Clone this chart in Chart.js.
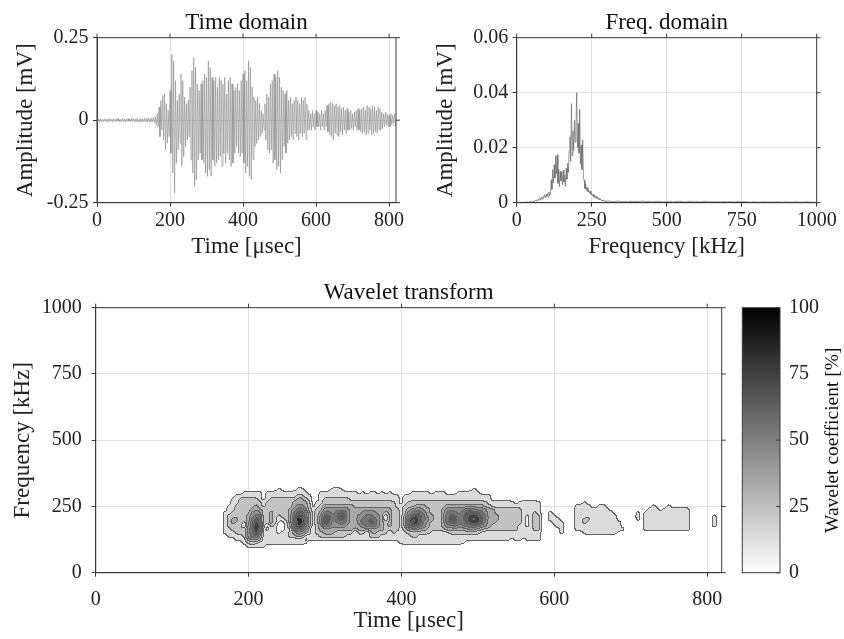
<!DOCTYPE html>
<html>
<head>
<meta charset="utf-8">
<script src="https://cdn.jsdelivr.net/npm/chart.js@4.4.1/dist/chart.umd.min.js"></script>
<style>
  body { margin: 0; background: #fff; width: 844px; height: 639px; position: relative; overflow: hidden; }
  canvas { position: absolute; }
</style>
</head>
<body>
<canvas id="time-chart" width="420" height="262" style="left:0;top:0"></canvas>
<canvas id="freq-chart" width="424" height="262" style="left:420px;top:0"></canvas>
<canvas id="wavelet-chart" width="735" height="369" style="left:0;top:270px"></canvas>
<canvas id="colorbar-chart" width="109" height="369" style="left:735px;top:270px"></canvas>
<script>
// --- tick values ---
const timeTicks = [0, 200, 400, 600, 800];
const freqTicks = [0, 250, 500, 750, 1000];

// --- Time domain: positive / negative swing every 5 usec (mV) ---
const SAMPLE_STEP = 5;
const peakUp = [
  0.004,0.003,0.005,0.002,0.004,0.003,0.004,0.005,0.003,0.004,
  0.003,0.005,0.004,0.003,0.006,0.004,0.003,0.005,0.004,0.006,
  0.005,0.004,0.006,0.003,0.005,0.004,0.006,0.005,0.007,0.005,
  0.006,0.008,0.010,0.020,0.040,0.060,0.075,0.080,0.050,0.030,
  0.090,0.200,0.180,0.120,0.060,0.080,0.140,0.120,0.070,0.050,
  0.060,0.100,0.150,0.190,0.160,0.110,0.090,0.110,0.120,0.140,
  0.130,0.180,0.160,0.130,0.120,0.130,0.100,0.130,0.120,0.110,
  0.130,0.080,0.120,0.130,0.110,0.090,0.100,0.110,0.090,0.120,
  0.140,0.150,0.120,0.180,0.160,0.100,0.070,0.060,0.070,0.050,
  0.030,0.020,0.050,0.080,0.070,0.110,0.120,0.140,0.130,0.150,
  0.130,0.100,0.090,0.080,0.090,0.060,0.070,0.050,0.060,0.070,
  0.060,0.050,0.070,0.060,0.070,0.050,0.030,0.020,0.030,0.020,
  0.030,0.025,0.020,0.030,0.020,0.030,0.045,0.050,0.055,0.050,
  0.045,0.050,0.040,0.045,0.035,0.040,0.030,0.035,0.025,0.030,
  0.020,0.025,0.030,0.035,0.030,0.035,0.040,0.030,0.045,0.040,
  0.035,0.045,0.040,0.030,0.040,0.035,0.025,0.020,0.025,0.020,
  0.015,0.020,0.015,0.020,0.010
];
const peakDown = [
  -0.003,-0.005,-0.004,-0.004,-0.003,-0.005,-0.004,-0.003,-0.005,-0.004,
  -0.004,-0.003,-0.005,-0.004,-0.004,-0.006,-0.004,-0.003,-0.005,-0.004,
  -0.005,-0.006,-0.004,-0.005,-0.006,-0.004,-0.005,-0.006,-0.004,-0.006,
  -0.005,-0.008,-0.015,-0.020,-0.050,-0.030,-0.060,-0.090,-0.070,-0.050,
  -0.100,-0.160,-0.220,-0.130,-0.090,-0.070,-0.140,-0.110,-0.080,-0.060,
  -0.050,-0.120,-0.160,-0.200,-0.180,-0.120,-0.100,-0.120,-0.130,-0.160,
  -0.170,-0.150,-0.170,-0.120,-0.140,-0.130,-0.120,-0.110,-0.140,-0.100,
  -0.130,-0.100,-0.120,-0.140,-0.130,-0.100,-0.080,-0.100,-0.110,-0.100,
  -0.130,-0.160,-0.140,-0.170,-0.180,-0.120,-0.080,-0.070,-0.060,-0.050,
  -0.040,-0.030,-0.060,-0.090,-0.100,-0.090,-0.130,-0.120,-0.150,-0.140,
  -0.160,-0.120,-0.080,-0.100,-0.070,-0.060,-0.050,-0.060,-0.040,-0.050,
  -0.060,-0.040,-0.050,-0.040,-0.060,-0.030,-0.030,-0.030,-0.020,-0.030,
  -0.020,-0.020,-0.030,-0.020,-0.030,-0.020,-0.035,-0.045,-0.050,-0.060,
  -0.040,-0.045,-0.050,-0.035,-0.045,-0.030,-0.040,-0.030,-0.030,-0.025,
  -0.030,-0.020,-0.030,-0.030,-0.035,-0.040,-0.035,-0.045,-0.040,-0.030,
  -0.045,-0.040,-0.035,-0.040,-0.030,-0.030,-0.025,-0.020,-0.015,-0.020,
  -0.020,-0.015,-0.010,-0.020,-0.010
];

// --- Frequency domain (mV): 2.5 kHz steps up to 297.5 kHz, then 10 kHz steps ---
const specFine = [
  0.0001,0.0002,0.0001,0.0002,0.0001,0.0002,0.0001,0.0002,0.0002,0.0001,
  0.0002,0.0001,0.0002,0.0003,0.0002,0.0003,0.0002,0.0003,0.0004,0.0003,
  0.0004,0.0006,0.0003,0.0007,0.0005,0.0009,0.0006,0.0011,0.0008,0.0013,
  0.0009,0.0016,0.0011,0.0020,0.0013,0.0022,0.0016,0.0029,0.0019,0.0031,
  0.0023,0.0034,0.0020,0.0039,0.0026,0.0030,0.0083,0.0048,0.0120,0.0072,
  0.0138,0.0090,0.0170,0.0105,0.0174,0.0070,0.0122,0.0058,0.0115,0.0080,
  0.0110,0.0065,0.0118,0.0075,0.0100,0.0060,0.0125,0.0085,0.0143,0.0110,
  0.0190,0.0240,0.0150,0.0360,0.0170,0.0260,0.0190,0.0300,0.0220,0.0270,
  0.0400,0.0200,0.0288,0.0180,0.0340,0.0140,0.0210,0.0120,0.0228,0.0090,
  0.0082,0.0050,0.0070,0.0045,0.0055,0.0040,0.0046,0.0035,0.0042,0.0030,
  0.0034,0.0025,0.0030,0.0020,0.0028,0.0018,0.0022,0.0015,0.0018,0.0012,
  0.0016,0.0010,0.0012,0.0008,0.0010,0.0006,0.0009,0.0005,0.0007,0.0005
];
const specTail = [
  0.0005,0.0006,0.0004,0.0005,0.0006,0.0004,0.0005,0.0003,0.0005,0.0004,
  0.0005,0.0004,0.0006,0.0004,0.0005,0.0003,0.0004,0.0005,0.0004,0.0003,
  0.0004,0.0005,0.0003,0.0004,0.0005,0.0004,0.0003,0.0004,0.0005,0.0003,
  0.0004,0.0003,0.0004,0.0005,0.0003,0.0004,0.0003,0.0004,0.0003,0.0004,
  0.0003,0.0004,0.0003,0.0003,0.0004,0.0003,0.0004,0.0003,0.0002,0.0003,
  0.0003,0.0002,0.0003,0.0003,0.0002,0.0003,0.0002,0.0003,0.0002,0.0002,
  0.0003,0.0002,0.0002,0.0003,0.0002,0.0002,0.0002,0.0003,0.0002,0.0002,
  0.0002
];

// --- Wavelet transform: contour level (0-9, tens of %) per cell ---
// rows = frequency (kHz), columns = time 170..815 usec in 5 usec steps (blocks of 10)
const waveletFreqs = [312.5, 300, 287.5, 275, 262.5, 250, 237.5, 225, 212.5, 200, 187.5, 175, 162.5, 150, 137.5, 125, 112.5, 100];
const waveletRows = [
  '0000000000 0000100001 1000000011 1000000000 0000000000 0000000000 0000010000 0000000000 0000000000 0000000000 0000000000 0000000000 0000000000',
  '0000011111 0111111111 1100011111 1111101011 0101000001 1111011100 0111111000 0000000000 0000000000 0000000000 0000000000 0000000000 0000000000',
  '0001111111 0111111112 2110011111 1111111111 1111110111 1111111111 1111111111 0000000000 0000000000 0000000000 0000000000 0000000000 0000000000',
  '0011222221 0122222223 3210012222 2221111111 1111110111 1111111111 1111111111 0000000000 0000000000 0000000000 0000000000 0000000000 0000000000',
  '0011222222 1222222233 3320112222 2222222222 2222210122 2222222222 2222222221 1111110111 1110000000 0000100000 0000000000 0000000000 0000000000',
  '0112222232 1222222234 4320123333 3333222222 2222211222 3332222233 3333333322 1111111111 1110000000 0011110011 0000000000 0010001000 0000000000',
  '0112222333 2222222345 5421224444 4443333333 3333221234 4433222344 4445554443 3222222211 1110000000 0011111111 1000000000 0111011111 1100000000',
  '1122222444 2232222356 6531235545 6643334444 3323221245 5543222355 5456666543 3222222211 1210010000 0011111111 1100000010 1111111111 1100000000',
  '1222223455 2232122357 7531246655 7743344554 4303221356 7653322356 6556777653 3322222210 1220011000 0011111111 1110000010 1111111111 1100000010',
  '1233223566 2232112369 8631247655 6643345565 4303221368 7654322356 6556787653 3322222210 1220011100 0011221111 1110000010 1111111111 1100000010',
  '1232213576 2232001358 8631247644 5543345566 4323221368 7643222356 6556777643 3222222210 1220001110 0011211111 1111000000 1111111111 1100000010',
  '1222204587 2021001358 7531235544 4433334555 4323221356 6543222344 5445555443 2222222110 1220000110 0011111111 1111000000 1111111111 1100000010',
  '1122224586 1011001146 6420233333 3333233333 3322221234 4332222233 3333443322 2222222111 1220000010 0011111111 1111100000 1111111111 1100000000',
  '1112224575 1111011234 4321223332 2222022023 2220211122 2222111112 2222222111 1111111111 1110000010 0000111111 1110000000 0000000000 0000000000',
  '0111124564 1111111223 3111122222 2211111122 2111111112 2111111111 1111111111 1111111111 1110000000 0000000000 0000000000 0000000000 0000000000',
  '0001113443 1111111111 1011111111 1111111111 1111111111 1111111111 1111111111 1111101101 1110000000 0000000000 0000000000 0000000000 0000000000',
  '0000012221 1111111111 1100000000 0000000000 0000001111 1111111111 1110000000 0000000000 0000000000 0000000000 0000000000 0000000000 0000000000',
  '0000001111 1000000000 0000000000 0000000000 0000000000 0000000000 0000000000 0000000000 0000000000 0000000000 0000000000 0000000000 0000000000'
];
const WAVELET_T0 = 170;
const WAVELET_T_STEP = 5;
const WAVELET_F_STEP = 12.5;
const colorbarRange = [0, 100];

// --- shared look ---
const FONT = '"Liberation Serif", "Times New Roman", serif';
Chart.defaults.font.family = FONT;
Chart.defaults.color = '#222';
Chart.defaults.animation = false;
const DARK = '#3a3a3a';
const GRID = '#e0e0e0';
const TICK_SIZE = 20;
const LABEL_SIZE = 23;

const levelGray = lv => Math.round(255 * (1 - (lv * 10 + 4) / 100));

// box around the plot, plus outward ticks on top and right
const framePlugin = {
  id: 'frame',
  afterDraw(chart) {
    const { ctx, chartArea: a, scales } = chart;
    ctx.save();
    ctx.strokeStyle = DARK;
    ctx.lineWidth = 1;
    ctx.strokeRect(a.left, a.top, a.right - a.left, a.bottom - a.top);
    ctx.beginPath();
    scales.x.ticks.forEach(t => {
      const px = scales.x.getPixelForValue(t.value);
      ctx.moveTo(px, a.top);
      ctx.lineTo(px, a.top - 4);
    });
    scales.y.ticks.forEach(t => {
      const py = scales.y.getPixelForValue(t.value);
      ctx.moveTo(a.right, py);
      ctx.lineTo(a.right + 4, py);
    });
    ctx.stroke();
    ctx.restore();
  }
};

const xAxis = (min, max, tickValues, title, height, tickPad) => ({
  type: 'linear', min, max,
  grid: { color: GRID, tickColor: DARK, tickLength: 4 },
  border: { color: DARK, width: 1 },
  ticks: { padding: tickPad, font: { size: TICK_SIZE }, maxRotation: 0, callback: v => String(v) },
  afterBuildTicks: s => { s.ticks = tickValues.map(v => ({ value: v })); },
  title: { display: true, text: title, font: { size: LABEL_SIZE }, padding: { top: 0, bottom: 0 } },
  afterFit: s => { s.height = height; }
});

const yAxis = (min, max, step, title, width, tickPad, titlePad) => ({
  type: 'linear', min, max,
  grid: { color: GRID, tickColor: DARK, tickLength: 4 },
  border: { color: DARK, width: 1 },
  ticks: { stepSize: step, padding: tickPad, font: { size: TICK_SIZE }, callback: v => String(v) },
  title: { display: true, text: title, font: { size: LABEL_SIZE }, padding: { top: titlePad, bottom: 0 } },
  afterFit: s => { s.width = width; }
});

const titleOpts = text => ({
  display: true, text, fullSize: false,
  font: { size: LABEL_SIZE, weight: 'normal' }, color: '#111',
  padding: { top: 6.7, bottom: 0.9 }
});

// --- Time domain ---
const timeSignal = [];
peakUp.forEach((v, k) => {
  timeSignal.push({ x: k * SAMPLE_STEP, y: v });
  timeSignal.push({ x: k * SAMPLE_STEP + SAMPLE_STEP / 2, y: peakDown[k] });
});

new Chart(document.getElementById('time-chart'), {
  type: 'line',
  data: { datasets: [{ data: timeSignal, borderColor: '#8a8a8a', borderWidth: 0.6, pointRadius: 0, tension: 0 }] },
  options: {
    responsive: false, events: [],
    layout: { padding: { left: 4, right: 24, top: 2.5, bottom: 0.8 } },
    plugins: { legend: { display: false }, tooltip: { enabled: false }, title: titleOpts('Time domain') },
    scales: {
      x: xAxis(0, 819, timeTicks, 'Time [μsec]', 58.5, 2),
      y: yAxis(-0.25, 0.25, 0.25, 'Amplitude [mV]', 93, 4.5, 8.2)
    }
  },
  plugins: [framePlugin]
});

// --- Frequency domain ---
const spectrum = specFine.map((v, i) => ({ x: i * 2.5, y: v }))
  .concat(specTail.map((v, i) => ({ x: 300 + i * 10, y: v })));

new Chart(document.getElementById('freq-chart'), {
  type: 'line',
  data: { datasets: [{ data: spectrum, borderColor: '#6a6a6a', borderWidth: 0.7, pointRadius: 0, tension: 0 }] },
  options: {
    responsive: false, events: [],
    layout: { padding: { left: 4, right: 27.3, top: 2.5, bottom: 0.8 } },
    plugins: { legend: { display: false }, tooltip: { enabled: false }, title: titleOpts('Freq. domain') },
    scales: {
      x: xAxis(0, 1000, freqTicks, 'Frequency [kHz]', 58.5, 2),
      y: yAxis(0, 0.06, 0.02, 'Amplitude [mV]', 92.7, 4.5, 8.2)
    }
  },
  plugins: [framePlugin]
});

// --- Wavelet transform ---
const waveletGrid = waveletRows.map(r => r.replace(/ /g, '').split('').map(Number));
const waveletTimes = waveletGrid[0].map((_, c) => WAVELET_T0 + c * WAVELET_T_STEP);

// filled contour bands rendered from the level grid, through the chart's scales
const waveletPlugin = {
  id: 'waveletContour',
  beforeDatasetsDraw(chart) {
    const { ctx, chartArea: a, scales: { x, y } } = chart;
    const nR = waveletGrid.length, nC = waveletTimes.length;
    const val = (r, c) => (r < 0 || c < 0 || r >= nR || c >= nC) ? 0.5 : waveletGrid[r][c] + 0.5;

    const px0 = Math.max(Math.floor(x.getPixelForValue(waveletTimes[0] - 2 * WAVELET_T_STEP)), Math.ceil(a.left) + 1);
    const px1 = Math.min(Math.ceil(x.getPixelForValue(waveletTimes[nC - 1] + 2 * WAVELET_T_STEP)), Math.floor(a.right));
    const py0 = Math.max(Math.floor(y.getPixelForValue(waveletFreqs[0] + 2 * WAVELET_F_STEP)), Math.ceil(a.top));
    const py1 = Math.min(Math.ceil(y.getPixelForValue(waveletFreqs[nR - 1] - 2 * WAVELET_F_STEP)), Math.floor(a.bottom) - 1);
    const w = px1 - px0, h = py1 - py0;
    if (w <= 0 || h <= 0) return;

    // sample the grid at every pixel
    const field = new Float32Array(w * h);
    for (let j = 0; j < h; j++) {
      const f = y.getValueForPixel(py0 + j + 0.5);
      const rv = (waveletFreqs[0] - f) / WAVELET_F_STEP;
      const r0 = Math.floor(rv), fr = rv - r0;
      for (let i = 0; i < w; i++) {
        const t = x.getValueForPixel(px0 + i + 0.5);
        const cv = (t - WAVELET_T0) / WAVELET_T_STEP;
        const c0 = Math.floor(cv), fc = cv - c0;
        field[j * w + i] = (val(r0, c0) * (1 - fc) + val(r0, c0 + 1) * fc) * (1 - fr)
                         + (val(r0 + 1, c0) * (1 - fc) + val(r0 + 1, c0 + 1) * fc) * fr;
      }
    }
    // light softening of the cell corners
    const R = 1, n = 2 * R + 1;
    const tmp = new Float32Array(w * h);
    for (let pass = 0; pass < 2; pass++) {
      for (let j = 0; j < h; j++) {
        for (let i = 0; i < w; i++) {
          let s = 0;
          for (let k = -R; k <= R; k++) s += field[j * w + Math.min(w - 1, Math.max(0, i + k))];
          tmp[j * w + i] = s / n;
        }
      }
      for (let j = 0; j < h; j++) {
        for (let i = 0; i < w; i++) {
          let s = 0;
          for (let k = -R; k <= R; k++) s += tmp[Math.min(h - 1, Math.max(0, j + k)) * w + i];
          field[j * w + i] = s / n;
        }
      }
    }
    const levels = new Uint8Array(w * h);
    for (let k = 0; k < w * h; k++) levels[k] = Math.floor(field[k]);

    const off = document.createElement('canvas');
    off.width = w; off.height = h;
    const octx = off.getContext('2d');
    const img = octx.createImageData(w, h);
    for (let j = 0; j < h; j++) {
      for (let i = 0; i < w; i++) {
        const k = j * w + i, L = levels[k];
        const edge = (i + 1 < w && levels[k + 1] !== L) || (j + 1 < h && levels[k + w] !== L);
        const p = k * 4;
        if (edge) {
          img.data[p] = img.data[p + 1] = img.data[p + 2] = 100; img.data[p + 3] = 255;
        } else if (L > 0) {
          const g = levelGray(L);
          img.data[p] = img.data[p + 1] = img.data[p + 2] = g; img.data[p + 3] = 255;
        }
      }
    }
    octx.putImageData(img, 0, 0);
    ctx.drawImage(off, px0, py0);
  }
};

new Chart(document.getElementById('wavelet-chart'), {
  type: 'scatter',
  data: { datasets: [{ data: [], pointRadius: 0 }] },
  options: {
    responsive: false, events: [],
    layout: { padding: { left: 4, right: 13.3, top: 2.5, bottom: 4.2 } },
    plugins: { legend: { display: false }, tooltip: { enabled: false }, title: titleOpts('Wavelet transform') },
    scales: {
      x: xAxis(0, 819, timeTicks, 'Time [μsec]', 62.1, 11),
      y: yAxis(0, 1000, 250, 'Frequency [kHz]', 91.7, 10, 5.2)
    }
  },
  plugins: [waveletPlugin, framePlugin]
});

// --- Colour bar ---
const colorbarPlugin = {
  id: 'colorbarFrame',
  afterDraw(chart) {
    const { ctx, chartArea: a, scales: { y } } = chart;
    ctx.save();
    ctx.strokeStyle = DARK;
    ctx.lineWidth = 1;
    ctx.strokeRect(a.left, a.top, a.right - a.left, a.bottom - a.top);
    ctx.beginPath();
    y.ticks.forEach(t => {
      const py = y.getPixelForValue(t.value);
      ctx.moveTo(a.right, py);
      ctx.lineTo(a.right - 4, py);
    });
    ctx.stroke();
    ctx.translate(98, (a.top + a.bottom) / 2);
    ctx.rotate(-Math.PI / 2);
    ctx.font = `19.5px ${FONT}`;
    ctx.fillStyle = '#111';
    ctx.textAlign = 'center';
    ctx.textBaseline = 'middle';
    ctx.fillText('Wavelet coefficient [%]', 0, 0);
    ctx.restore();
  }
};

new Chart(document.getElementById('colorbar-chart'), {
  type: 'bar',
  data: {
    labels: [''],
    datasets: [{
      data: [colorbarRange],
      barPercentage: 1, categoryPercentage: 1, borderWidth: 0,
      backgroundColor: c => {
        const chart = c.chart;
        const y = chart.scales.y;
        if (!chart.chartArea || !y) return '#888';
        const y0 = y.getPixelForValue(colorbarRange[0]), y1 = y.getPixelForValue(colorbarRange[1]);
        if (!isFinite(y0) || !isFinite(y1)) return '#888';
        const g = chart.ctx.createLinearGradient(0, y0, 0, y1);
        g.addColorStop(0, '#ffffff');
        g.addColorStop(1, '#000000');
        return g;
      }
    }]
  },
  options: {
    responsive: false, events: [],
    layout: { padding: { left: 7.3, right: 0, top: 37.7, bottom: 66.3 } },
    plugins: { legend: { display: false }, tooltip: { enabled: false } },
    scales: {
      x: { display: false },
      y: {
        position: 'right', min: 0, max: 100,
        grid: { display: false, drawTicks: false },
        border: { display: false },
        ticks: { stepSize: 25, padding: 9, font: { size: TICK_SIZE } },
        afterFit: s => { s.width = 64; }
      }
    }
  },
  plugins: [colorbarPlugin]
});
</script>
</body>
</html>
